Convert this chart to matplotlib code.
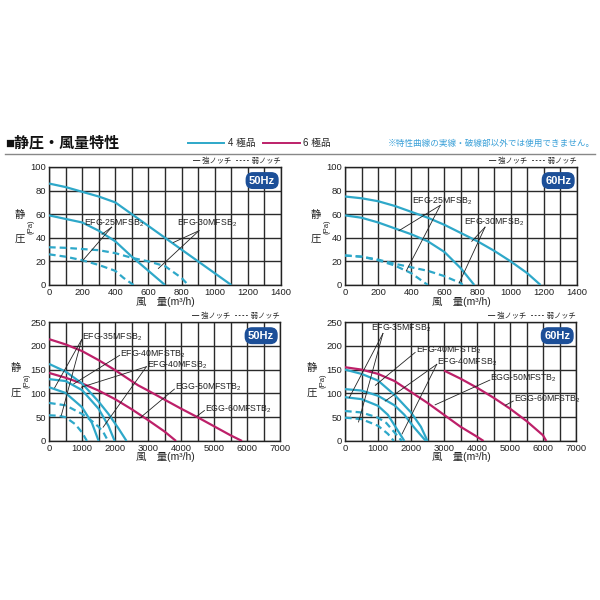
import matplotlib
matplotlib.use('Agg')
import matplotlib.pyplot as plt
from matplotlib.lines import Line2D
from matplotlib.ticker import MultipleLocator

plt.rcParams['font.family'] = ['Liberation Sans', 'Noto Sans CJK JP', 'DejaVu Sans']
plt.rcParams['mathtext.fontset'] = 'custom'
plt.rcParams['mathtext.rm'] = 'Liberation Sans'

CYAN = '#2ea8c9'
MAG = '#bd2069'
NAVY = '#1c4f98'

# ---------------- data ----------------
# Top-left: 50Hz, small fans
tl_30s_x = [0, 100, 200, 300, 400, 500, 600, 700, 800, 900, 1000, 1100]
tl_30s_y = [86, 83, 79, 75, 70, 60, 50, 40, 30, 20, 10, 0]
tl_25s_x = [0, 100, 200, 300, 400, 500, 600, 700]
tl_25s_y = [59, 56, 53, 46, 37, 24, 12, 0]
tl_30w_x = [0, 100, 200, 300, 400, 500, 600, 700, 800, 840]
tl_30w_y = [32, 31.5, 30.5, 29.5, 27, 23, 20, 16, 6, 0]
tl_25w_x = [0, 100, 200, 300, 400, 450, 510]
tl_25w_y = [26, 24, 21, 17, 12, 6, 0]

# Top-right: 60Hz, small fans
tr_30s_x = [0, 100, 200, 300, 400, 500, 600, 700, 800, 900, 1000, 1100, 1180]
tr_30s_y = [75, 73.5, 71, 67, 62, 57, 51, 44, 37, 29, 20, 10, 0]
tr_25s_x = [0, 100, 200, 300, 400, 500, 600, 700, 780]
tr_25s_y = [59, 57, 53, 48, 43, 37, 28, 14, 0]
tr_30w_x = [0, 100, 200, 300, 400, 500, 600, 700, 710]
tr_30w_y = [25, 24, 21.5, 18, 15, 12, 7.5, 1.5, 0]
tr_25w_x = [0, 100, 200, 300, 400, 450, 500]
tr_25w_y = [25, 24, 21, 16.5, 10, 5, 0]

# Bottom-left: 50Hz, large fans
bl_g60_x = [0, 500, 1000, 1500, 2000, 2500, 2700, 3000, 3500, 4000, 4500, 5000, 5500, 5850]
bl_g60_y = [214, 203, 189, 170, 149, 126, 117, 106, 87, 68, 50, 31, 12, 0]
bl_g50_x = [0, 500, 1000, 1500, 2000, 2500, 3000, 3500, 3850]
bl_g50_y = [143, 133, 121, 106, 88, 67, 44, 20, 0]
bl_s1_x = [0, 500, 1000, 1500, 1800, 2100, 2350]
bl_s1_y = [162, 146, 121, 83, 57, 27, 0]
bl_s2_x = [0, 500, 1000, 1500, 1800, 1990]
bl_s2_y = [130, 126, 107, 68, 32, 0]
bl_s3_x = [0, 500, 1000, 1300, 1505]
bl_s3_y = [113, 101, 71, 38, 0]
bl_d1_x = [0, 500, 1000, 1300, 1500, 1650, 1790]
bl_d1_y = [80, 75, 57, 42, 30, 18, 0]
bl_d2_x = [0, 300, 500, 800, 1000, 1150]
bl_d2_y = [54, 53, 50, 35, 18, 0]

# Bottom-right: 60Hz, large fans
br_g60_x = [3000, 3500, 4000, 4500, 5000, 5500, 6000, 6100]
br_g60_y = [148, 131, 112, 91, 68, 42, 12, 0]
br_g50_x = [0, 500, 1000, 1500, 2000, 2500, 3000, 3500, 4000, 4200]
br_g50_y = [155, 150, 141, 126, 103, 80, 55, 30, 9, 0]
br_s1_x = [0, 500, 1000, 1500, 2000, 2300, 2500]
br_s1_y = [150, 141, 127, 97, 60, 30, 0]
br_s2_x = [0, 500, 1000, 1500, 1800, 2100, 2450]
br_s2_y = [109, 106, 95, 75, 55, 28, 0]
br_s3_x = [0, 500, 1000, 1300, 1600, 1800]
br_s3_y = [92, 88, 74, 55, 22, 0]
br_d1_x = [0, 500, 1000, 1250, 1500, 1720]
br_d1_y = [63, 60, 49, 38, 18, 0]
br_d2_x = [0, 500, 1000, 1300, 1480]
br_d2_y = [49, 46, 32, 15, 0]

# Model labels: (text, text position, leader origin, leader tips)
tl_labels = [
    ('EFG-25MFSB$_2$', (210, 52), (378, 49), [(320, 43), (205, 21)]),
    ('EFG-30MFSB$_2$', (775, 52), (905, 46), [(750, 36), (660, 14)]),
]
tr_labels = [
    ('EFG-25MFSB$_2$', (405, 71), (575, 67.5), [(325, 46), (370, 12)]),
    ('EFG-30MFSB$_2$', (720, 53), (845, 49), [(765, 37), (690, 2)]),
]
bl_labels = [
    ('EFG-35MFSB$_2$', (1000, 217), (990, 213), [(172, 112), (374, 54)]),
    ('EFG-40MFSTB$_2$', (2160, 183), (2140, 180), [(750, 120)]),
    ('EFG-40MFSB$_2$', (2960, 159), (2950, 156), [(980, 113), (1640, 29)]),
    ('EGG-50MFSTB$_2$', (3820, 112), (3800, 109), [(2750, 48)]),
    ('EGG-60MFSTB$_2$', (4730, 67), (4710, 64), [(4480, 52)]),
]
br_labels = [
    ('EFG-35MFSB$_2$', (790, 236), (1150, 226), [(130, 91), (410, 40)]),
    ('EFG-40MFSTB$_2$', (2140, 190), (2125, 186), [(920, 117)]),
    ('EFG-40MFSB$_2$', (2790, 165), (2780, 161), [(1220, 84), (1730, 15)]),
    ('EGG-50MFSTB$_2$', (4400, 131), (4390, 128), [(2732, 76)]),
    ('EGG-60MFSTB$_2$', (5110, 88), (5100, 84), [(4858, 75)]),
]

top_xticks = [0, 200, 400, 600, 800, 1000, 1200, 1400]
top_yticks = [0, 20, 40, 60, 80, 100]
bot_xticks = [0, 1000, 2000, 3000, 4000, 5000, 6000, 7000]
bot_yticks = [0, 50, 100, 150, 200, 250]

W = 600.0
fig = plt.figure(figsize=(6, 6), dpi=100)
fig.patch.set_facecolor('white')


def px_axes(x0, x1, y0, y1):
    return fig.add_axes([x0 / W, 1 - y1 / W, (x1 - x0) / W, (y1 - y0) / W])


def setup(ax, xmax, ymax, xt, yt, xminor, yminor, hz):
    ax.set_xlim(0, xmax)
    ax.set_ylim(0, ymax)
    ax.set_xticks(xt)
    ax.set_yticks(yt)
    ax.xaxis.set_minor_locator(MultipleLocator(xminor))
    ax.yaxis.set_minor_locator(MultipleLocator(yminor))
    ax.grid(True, which='both', color='#2a2a2a', linewidth=1.0)
    ax.set_axisbelow(True)
    ax.tick_params(which='both', length=0, labelsize=6.8, pad=2, colors='#222222')
    for s in ax.spines.values():
        s.set_color('#222222')
        s.set_linewidth(1.0)
    ax.text(0.975, 0.885, hz, transform=ax.transAxes, ha='right', va='center',
            color='white', fontsize=8, fontweight='bold',
            bbox=dict(boxstyle='round,pad=0.25,rounding_size=0.6', fc=NAVY, ec=NAVY))


def curve(ax, x, y, color, dashed=False):
    ax.plot(x, y, color=color, lw=1.6, ls=(0, (3, 1.8)) if dashed else '-',
            solid_capstyle='butt', zorder=3)


def labels(ax, items):
    for text, tpos, org, tips in items:
        ax.text(tpos[0], tpos[1], text, fontsize=6.3, ha='left', va='center',
                color='#222222', zorder=5)
        for tip in tips:
            ax.plot([org[0], tip[0]], [org[1], tip[1]], color='#222222', lw=0.6, zorder=4)


def notch_legend(x_right, y):
    fig.text(x_right / W, 1 - y / W, '━ 強ノッチ  ╍╍ 弱ノッチ', ha='right', va='center',
             fontsize=5.2, color='#222222')


def ylabel(x, y_top, y_mid, y_bot):
    fig.text(x / W, 1 - y_top / W, '静', fontsize=7.5, ha='center', va='center', color='#222222')
    fig.text((x + 11) / W, 1 - y_mid / W, '(Pa)', fontsize=5.5, ha='center', va='center',
             rotation=90, color='#222222')
    fig.text(x / W, 1 - y_bot / W, '圧', fontsize=7.5, ha='center', va='center', color='#222222')


def xlabel(xc, y):
    fig.text(xc / W, 1 - y / W, '風\u3000量(m³/h)', fontsize=7.5, ha='center', va='center',
             color='#222222')


# ---- header ----
fig.text(5 / W, 1 - 143 / W, '■静圧・風量特性', fontsize=10.8, fontweight='bold',
         ha='left', va='center', color='#111111')
fig.add_artist(Line2D([5 / W, 595 / W], [1 - 154 / W, 1 - 154 / W], color='#888888', lw=1.0))
fig.add_artist(Line2D([188 / W, 224 / W], [1 - 143 / W, 1 - 143 / W], color=CYAN, lw=1.4))
fig.text(228 / W, 1 - 143 / W, '4 極品', fontsize=7, ha='left', va='center', color='#222222')
fig.add_artist(Line2D([263 / W, 300 / W], [1 - 143 / W, 1 - 143 / W], color=MAG, lw=1.4))
fig.text(303 / W, 1 - 143 / W, '6 極品', fontsize=7, ha='left', va='center', color='#222222')
fig.text(595 / W, 1 - 143 / W, '※特性曲線の実線・破線部以外では使用できません。', fontsize=6.2,
         ha='right', va='center', color='#3aa0d8')

# ---- top-left ----
ax1 = px_axes(49, 281, 167, 285)
setup(ax1, 1400, 100, top_xticks, top_yticks, 100, 20, '50Hz')
curve(ax1, tl_30s_x, tl_30s_y, CYAN)
curve(ax1, tl_25s_x, tl_25s_y, CYAN)
curve(ax1, tl_30w_x, tl_30w_y, CYAN, True)
curve(ax1, tl_25w_x, tl_25w_y, CYAN, True)
labels(ax1, tl_labels)

# ---- top-right ----
ax2 = px_axes(345, 577, 167, 285)
setup(ax2, 1400, 100, top_xticks, top_yticks, 100, 20, '60Hz')
curve(ax2, tr_30s_x, tr_30s_y, CYAN)
curve(ax2, tr_25s_x, tr_25s_y, CYAN)
curve(ax2, tr_30w_x, tr_30w_y, CYAN, True)
curve(ax2, tr_25w_x, tr_25w_y, CYAN, True)
labels(ax2, tr_labels)

# ---- bottom-left ----
ax3 = px_axes(49, 280, 322, 441)
setup(ax3, 7000, 250, bot_xticks, bot_yticks, 500, 50, '50Hz')
curve(ax3, bl_g60_x, bl_g60_y, MAG)
curve(ax3, bl_g50_x, bl_g50_y, MAG)
curve(ax3, bl_s1_x, bl_s1_y, CYAN)
curve(ax3, bl_s2_x, bl_s2_y, CYAN)
curve(ax3, bl_s3_x, bl_s3_y, CYAN)
curve(ax3, bl_d1_x, bl_d1_y, CYAN, True)
curve(ax3, bl_d2_x, bl_d2_y, CYAN, True)
labels(ax3, bl_labels)

# ---- bottom-right ----
ax4 = px_axes(345, 576, 322, 441)
setup(ax4, 7000, 250, bot_xticks, bot_yticks, 500, 50, '60Hz')
curve(ax4, br_g60_x, br_g60_y, MAG)
curve(ax4, br_g50_x, br_g50_y, MAG)
curve(ax4, br_s1_x, br_s1_y, CYAN)
curve(ax4, br_s2_x, br_s2_y, CYAN)
curve(ax4, br_s3_x, br_s3_y, CYAN)
curve(ax4, br_d1_x, br_d1_y, CYAN, True)
curve(ax4, br_d2_x, br_d2_y, CYAN, True)
labels(ax4, br_labels)

# ---- legends / axis labels ----
notch_legend(281, 161)
notch_legend(577, 161)
notch_legend(280, 316)
notch_legend(576, 316)
ylabel(20, 215, 227, 239)
ylabel(316, 215, 227, 239)
ylabel(16, 368, 381, 393)
ylabel(312, 368, 381, 393)
xlabel(165, 302)
xlabel(461, 302)
xlabel(165, 457)
xlabel(461, 457)

fig.savefig('out.png', dpi=100, facecolor='white')
